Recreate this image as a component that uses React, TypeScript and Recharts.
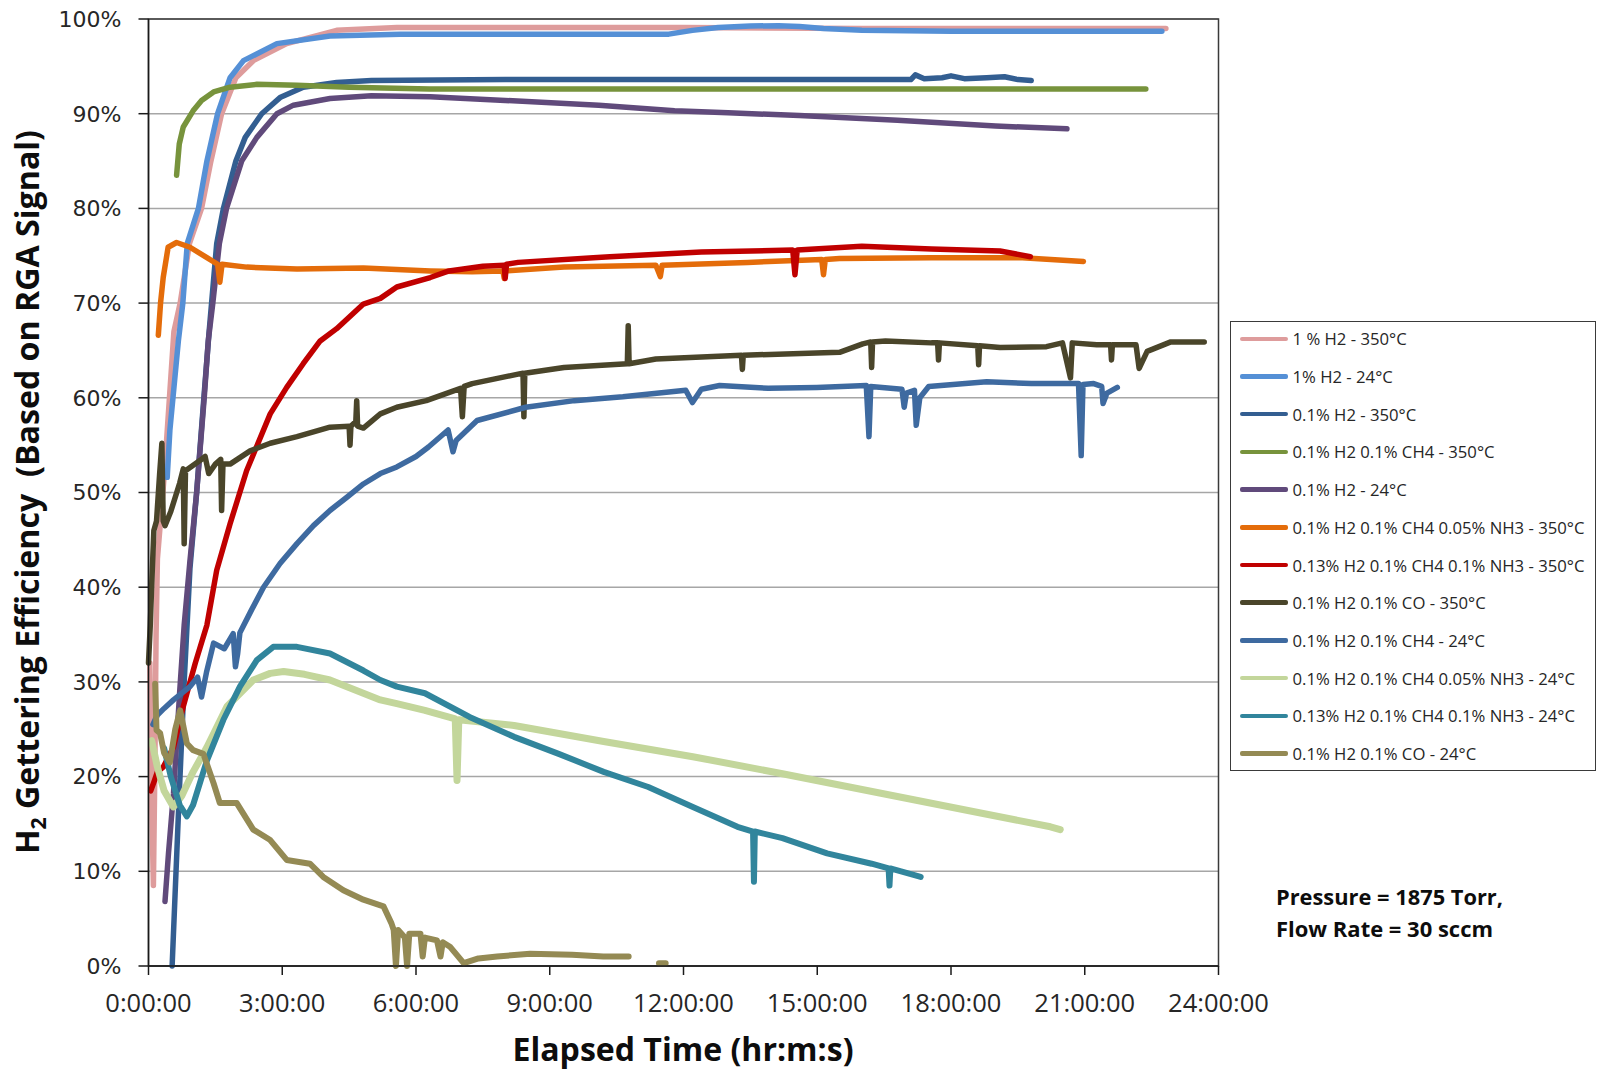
import { CartesianGrid, Legend, Line, LineChart, ReferenceArea, XAxis, YAxis } from 'recharts';

type Pt = [number, number | null];

// [elapsed hours, H2 gettering efficiency %]
const h2_1pct_350C: Pt[] = [
  [0.03, 32], [0.06, 20], [0.11, 8.5], [0.14, 20], [0.17, 35], [0.2, 43], [0.35, 51.6], [0.57, 67],
  [0.71, 70], [0.92, 76.3], [1.19, 80], [1.4, 85], [1.64, 90], [1.96, 93.8], [2.35, 95.6], [3.1, 97.4],
  [4.22, 98.8], [5.57, 99.1], [8, 99.1], [12, 99.1], [16, 99.0], [20, 99.0], [22.82, 99.0],
];
const h2_1pct_24C: Pt[] = [
  [0.42, 51.6], [0.48, 56.6], [0.67, 66], [0.77, 70], [0.87, 76.3], [1.12, 80], [1.31, 85], [1.55, 90],
  [1.83, 93.8], [2.13, 95.6], [2.88, 97.4], [4.07, 98.2], [5.65, 98.4], [8, 98.4], [11.67, 98.4],
  [12.2, 98.8], [12.78, 99.1], [13.5, 99.25], [14.13, 99.3], [14.6, 99.2], [15.14, 99.0], [16.0, 98.8],
  [18, 98.7], [20, 98.7], [22.73, 98.7],
];
const h2_01_350C: Pt[] = [
  [0.53, 0], [0.6, 8], [0.69, 18.2], [0.8, 30], [0.93, 42], [1.08, 50], [1.25, 60.5], [1.36, 67],
  [1.53, 76.3], [1.68, 80], [1.96, 85], [2.17, 87.5], [2.54, 90], [2.95, 91.7], [3.47, 92.8], [4.22, 93.3],
  [5, 93.5], [8, 93.6], [12, 93.6], [17.1, 93.6], [17.2, 94.1], [17.4, 93.7], [17.8, 93.8], [18.0, 94.0],
  [18.3, 93.7], [18.8, 93.8], [19.2, 93.9], [19.5, 93.6], [19.8, 93.5],
];
const h2ch4_350C: Pt[] = [
  [0.63, 83.5], [0.69, 86.8], [0.78, 88.6], [1.0, 90.3], [1.19, 91.4], [1.46, 92.3], [1.83, 92.8],
  [2.43, 93.1], [3.33, 93.0], [4.5, 92.8], [6.3, 92.6], [10, 92.6], [15, 92.6], [20, 92.6], [22.37, 92.6],
];
const h2_01_24C: Pt[] = [
  [0.37, 6.8], [0.45, 12], [0.56, 18.2], [0.7, 29], [0.8, 36], [0.93, 42.8], [1.08, 50], [1.25, 60],
  [1.34, 66], [1.44, 69.9], [1.59, 76.3], [1.75, 80], [2.09, 85], [2.43, 87.5], [2.88, 90], [3.25, 90.9],
  [4.07, 91.6], [5, 91.9], [6.32, 91.8], [8, 91.4], [10.1, 90.9], [11.8, 90.3], [13, 90.1], [14.6, 89.8],
  [16.8, 89.3], [19, 88.7], [20.6, 88.4],
];
const h2ch4nh3_350C: Pt[] = [
  [0.22, 66.6], [0.27, 70], [0.33, 72.7], [0.44, 75.9], [0.63, 76.4], [0.93, 75.9], [1.31, 74.8],
  [1.55, 74.1], [1.6, 72.2], [1.65, 74.1], [2.2, 73.8], [3.33, 73.6], [4.82, 73.7], [6.32, 73.4],
  [7.26, 73.3], [7.95, 73.4], [7.98, 72.6], [8.01, 73.4], [9.32, 73.8], [11.38, 74.0], [11.48, 72.8],
  [11.52, 74.0], [13.44, 74.3], [15.1, 74.6], [15.14, 73.0], [15.18, 74.6], [15.5, 74.7], [17.56, 74.8],
  [19.6, 74.8], [20.97, 74.4],
];
const h2013ch4nh3_350C: Pt[] = [
  [0.05, 18.5], [0.12, 19.4], [0.2, 20.5], [0.33, 21], [0.56, 23.1], [0.78, 27.4], [1.05, 32], [1.31, 36],
  [1.53, 41.8], [1.83, 46.7], [2.2, 52.3], [2.73, 58.3], [3.1, 61.1], [3.47, 63.6], [3.85, 66],
  [4.22, 67.3], [4.82, 69.9], [5.2, 70.5], [5.57, 71.7], [6.32, 72.7], [6.74, 73.4], [7.5, 73.9],
  [7.98, 74.0], [8.0, 72.6], [8.03, 74.1], [8.29, 74.3], [10.35, 74.9], [12.4, 75.4], [14.45, 75.6],
  [14.5, 73.0], [14.55, 75.6], [16.0, 76.0], [17.56, 75.7], [19.1, 75.5], [19.78, 74.9],
];
const h2co_350C: Pt[] = [
  [0.0, 32], [0.04, 36], [0.07, 40], [0.12, 46], [0.18, 47], [0.25, 52], [0.3, 55.2], [0.33, 47],
  [0.37, 46.5], [0.5, 48], [0.7, 51], [0.78, 52.5], [0.8, 44.6], [0.83, 52.3], [1.16, 53.4], [1.27, 53.8],
  [1.35, 52], [1.5, 53], [1.62, 53.5], [1.64, 48.1], [1.67, 53], [1.83, 53.0], [2.28, 54.4], [2.73, 55.2],
  [3.33, 55.9], [4.07, 56.9], [4.5, 57], [4.52, 55], [4.54, 57], [4.65, 57.5], [4.67, 59.7], [4.69, 57],
  [4.82, 56.8], [5.2, 58.3], [5.57, 59.0], [6.23, 59.7], [7.0, 61], [7.04, 58], [7.08, 61.2], [7.26, 61.5],
  [8.29, 62.5], [8.4, 62.6], [8.42, 58], [8.44, 62.6], [9.32, 63.2], [10.74, 63.6], [10.76, 67.6],
  [10.78, 63.6], [11.38, 64.1], [13.3, 64.5], [13.32, 63.0], [13.34, 64.5], [15.5, 64.8], [16.02, 65.7],
  [16.2, 65.9], [16.22, 63.2], [16.24, 65.9], [16.53, 66.0], [17.56, 65.8], [17.7, 65.8], [17.72, 64],
  [17.74, 65.8], [18.6, 65.5], [18.62, 63.5], [18.64, 65.5], [19.1, 65.3], [20.14, 65.4], [20.5, 65.8],
  [20.68, 62.1], [20.72, 65.8], [21.27, 65.6], [21.58, 65.6], [21.6, 64.0], [21.62, 65.6], [22.15, 65.6],
  [22.22, 63.1], [22.4, 64.9], [22.93, 65.9], [23.68, 65.9],
];
const h2ch4_24C: Pt[] = [
  [0.1, 25.5], [0.2, 26.5], [0.35, 27.2], [0.56, 28.1], [0.93, 29.5], [1.1, 30.5], [1.19, 28.4], [1.3, 31],
  [1.46, 34.1], [1.7, 33.5], [1.9, 35.1], [1.95, 31.6], [2.0, 33], [2.05, 35.2], [2.3, 37.5], [2.58, 40],
  [2.95, 42.5], [3.33, 44.6], [3.7, 46.5], [4.07, 48.1], [4.45, 49.5], [4.82, 50.9], [5.2, 52], [5.57, 52.7],
  [6.0, 53.8], [6.28, 54.8], [6.72, 56.6], [6.83, 54.3], [6.9, 55.5], [7.37, 57.6], [8.46, 59.0],
  [9.55, 59.7], [10.64, 60.1], [12.05, 60.8], [12.2, 59.5], [12.4, 60.9], [12.81, 61.3], [13.9, 61.0],
  [14.99, 61.1], [16.1, 61.3], [16.16, 55.9], [16.2, 61.2], [16.9, 60.9], [16.95, 59.0], [17.0, 60.5],
  [17.18, 60.8], [17.22, 57.1], [17.3, 60], [17.5, 61.2], [18.8, 61.7], [19.8, 61.5], [20.86, 61.5],
  [20.92, 53.9], [20.96, 61.4], [21.2, 61.5], [21.38, 61.2], [21.41, 59.4], [21.5, 60.5], [21.73, 61.1],
];
const h2ch4nh3_24C: Pt[] = [
  [0.07, 23.8], [0.2, 21], [0.35, 18.5], [0.56, 16.8], [0.75, 18], [1.0, 20.5], [1.31, 23.1], [1.76, 27.4],
  [2.35, 30.2], [2.73, 30.9], [3.03, 31.1], [3.5, 30.8], [4.07, 30.2], [5.2, 28.1], [5.57, 27.7],
  [6.2, 27.0], [6.88, 26.1], [6.92, 19.6], [6.96, 26.0], [8.2, 25.4], [10.21, 23.7], [12.21, 22.1],
  [14.22, 20.3], [15.72, 18.9], [17.22, 17.5], [18.72, 16.1], [20.23, 14.7], [20.45, 14.4],
];
const h2013ch4nh3_24C: Pt[] = [
  [0.35, 23], [0.5, 20], [0.7, 17], [0.86, 15.8], [1.0, 17], [1.31, 21.7], [1.68, 26], [2.05, 29.5],
  [2.43, 32.3], [2.8, 33.7], [3.33, 33.7], [4.07, 33.0], [4.82, 31.2], [5.2, 30.2], [5.57, 29.5],
  [6.2, 28.8], [7.2, 26.3], [8.2, 24.2], [9.2, 22.4], [10.21, 20.5], [11.21, 18.9], [12.21, 16.8],
  [13.21, 14.7], [13.56, 14.2], [13.58, 8.9], [13.6, 14.2], [14.22, 13.5], [15.22, 11.9], [16.22, 10.8],
  [16.6, 10.3], [16.62, 8.5], [16.64, 10.3], [17.32, 9.4],
];
const h2co_24C: Pt[] = [
  [0.15, 29.8], [0.18, 24.9], [0.26, 24.6], [0.35, 22.5], [0.48, 21.5], [0.6, 25], [0.71, 27.0],
  [0.86, 23.5], [1.0, 22.8], [1.23, 22.4], [1.46, 19.3], [1.6, 17.2], [1.98, 17.2], [2.35, 14.4],
  [2.73, 13.3], [3.1, 11.2], [3.62, 10.8], [3.92, 9.4], [4.37, 8.0], [4.82, 7.0], [5.27, 6.3], [5.45, 4.5],
  [5.5, 3.8], [5.55, 0], [5.6, 3.8], [5.75, 3.0], [5.8, 0], [5.85, 3.4], [6.1, 3.4], [6.15, 1], [6.2, 3.0],
  [6.47, 2.7], [6.55, 1], [6.6, 2.5], [6.77, 2.0], [7.07, 0.3], [7.4, 0.8], [7.82, 1.0], [8.56, 1.3],
  [9.5, 1.2], [10.2, 1.0], [10.77, 1.0], [10.9, null], [11.45, 0.3], [11.6, 0.3],
];

const seriesNames = [
  '1 % H2 - 350°C',
  '1% H2 - 24°C',
  '0.1% H2 - 350°C',
  '0.1% H2 0.1% CH4 - 350°C',
  '0.1% H2 - 24°C',
  '0.1% H2 0.1% CH4 0.05% NH3 - 350°C',
  '0.13% H2 0.1% CH4 0.1% NH3 - 350°C',
  '0.1% H2 0.1% CO - 350°C',
  '0.1% H2 0.1% CH4 - 24°C',
  '0.1% H2 0.1% CH4 0.05% NH3 - 24°C',
  '0.13% H2 0.1% CH4 0.1% NH3 - 24°C',
  '0.1% H2 0.1% CO - 24°C',
];
const seriesData = [
  h2_1pct_350C, h2_1pct_24C, h2_01_350C, h2ch4_350C, h2_01_24C, h2ch4nh3_350C,
  h2013ch4nh3_350C, h2co_350C, h2ch4_24C, h2ch4nh3_24C, h2013ch4nh3_24C, h2co_24C,
];
const seriesColors = [
  '#DE9C9C', '#5590D6', '#335E91', '#77933C', '#604A7B', '#E46C0A',
  '#C00000', '#4A452A', '#3E6AA0', '#C3D69B', '#31859C', '#948A54',
];
// the noisier traces read thicker in the original
const seriesWidths = [5.5, 5.5, 5.5, 5.5, 5.5, 5.5, 5.5, 5.5, 5.5, 7, 6, 6];

const xTicks = [0, 3, 6, 9, 12, 15, 18, 21, 24];
const xMinorTicks = [0, 1, 2, 3, 4, 5, 6, 7, 8, 9, 10, 11, 12, 13, 14, 15, 16, 17, 18, 19, 20, 21, 22, 23, 24];
const yTicks = [0, 10, 20, 30, 40, 50, 60, 70, 80, 90, 100];
const yMinorTicks = [
  2, 4, 6, 8, 12, 14, 16, 18, 22, 24, 26, 28, 32, 34, 36, 38, 42, 44, 46, 48,
  52, 54, 56, 58, 62, 64, 66, 68, 72, 74, 76, 78, 82, 84, 86, 88, 92, 94, 96, 98,
];

const series = seriesNames.map((name, i) => ({
  name,
  color: seriesColors[i],
  width: seriesWidths[i],
  rows: seriesData[i].map(([t, v]) => ({ t, v })),
}));

const axisColor = '#1a1a1a';
const textColor = '#262626';

function LegendBox() {
  return (
    <div
      style={{
        position: 'absolute',
        left: 0,
        top: 0,
        width: 366,
        height: 450,
        boxSizing: 'border-box',
        border: '1.5px solid #3a3a3a',
        background: '#fff',
        fontFamily: '"Open Sans", sans-serif',
        fontSize: 16.7,
        color: textColor,
      }}
    >
      {series.map((s, i) => (
        <div
          key={s.name}
          style={{
            position: 'absolute',
            left: 8.5,
            top: 16.8 + 37.7 * i - 11,
            height: 22,
            display: 'flex',
            alignItems: 'center',
            whiteSpace: 'nowrap',
          }}
        >
          <span style={{ width: 48, height: 4.5, background: s.color, borderRadius: 2, marginRight: 5 }} />
          <span>{s.name}</span>
        </div>
      ))}
    </div>
  );
}

export default function App() {
  return (
    <div style={{ position: 'absolute', left: 0, top: 0, width: 1598, height: 1073, background: '#fff' }}>
      <LineChart width={1598} height={1073} margin={{ top: 19, right: 379.5, bottom: 0, left: 0 }}>
        <CartesianGrid horizontal vertical={false} stroke="#A6A6A6" strokeWidth={1.5} />
        <XAxis
          dataKey="t"
          type="number"
          domain={[0, 24]}
          ticks={xTicks}
          height={107}
          tickSize={9}
          tickMargin={19}
          interval={0}
          stroke={axisColor}
          strokeWidth={1.5}
          tickFormatter={(v: number) => `${v}:00:00`}
          tick={{ fill: textColor, fontSize: 25.5, fontFamily: '"Open Sans", sans-serif' }}
        />
        <XAxis
          xAxisId="minor"
          type="number"
          domain={[0, 24]}
          ticks={xMinorTicks}
          height={10}
          mirror
          tickSize={6}
          tick={false}
          axisLine={false}
          interval={0}
          stroke={axisColor}
          strokeWidth={1.5}
        />
        <YAxis
          type="number"
          domain={[0, 100]}
          ticks={yTicks}
          width={148.5}
          tickSize={10}
          tickMargin={17}
          interval={0}
          stroke={axisColor}
          strokeWidth={1.5}
          tickFormatter={(v: number) => `${v}%`}
          tick={{ fill: textColor, fontSize: 22, fontFamily: '"DejaVu Sans", sans-serif' }}
        />
        <YAxis
          yAxisId="minor"
          type="number"
          domain={[0, 100]}
          ticks={yMinorTicks}
          width={10}
          mirror
          tickSize={7}
          tick={false}
          axisLine={false}
          interval={0}
          stroke={axisColor}
          strokeWidth={1.5}
        />
        <ReferenceArea x1={0} x2={24} y1={0} y2={100} fill="none" stroke="#3a3a3a" strokeWidth={1.5} />
        {series.map((s) => (
          <Line
            key={s.name}
            name={s.name}
            data={s.rows}
            dataKey="v"
            type="linear"
            stroke={s.color}
            strokeWidth={s.width}
            strokeLinejoin="round"
            strokeLinecap="round"
            dot={false}
            activeDot={false}
            isAnimationActive={false}
          />
        ))}
        <Legend
          layout="vertical"
          align="center"
          verticalAlign="middle"
          wrapperStyle={{ left: 1230, top: 321, width: 366, height: 450 }}
          content={() => <LegendBox />}
        />
        <text
          x={683}
          y={1061}
          textAnchor="middle"
          textLength={341}
          lengthAdjust="spacingAndGlyphs"
          fontFamily='"Open Sans", sans-serif'
          fontWeight={700}
          fontSize={32}
          fill="#0d0d0d"
        >
          Elapsed Time (hr:m:s)
        </text>
        <text
          transform="rotate(-90)"
          x={-492}
          y={39}
          textAnchor="middle"
          textLength={724}
          lengthAdjust="spacingAndGlyphs"
          fontFamily='"Open Sans", sans-serif'
          fontWeight={700}
          fontSize={32}
          fill="#0d0d0d"
          style={{ whiteSpace: 'pre' }}
        >
          H<tspan dy={7} fontSize={21}>2</tspan>
          <tspan dy={-7}> Gettering Efficiency  (Based on RGA Signal)</tspan>
        </text>
        <text
          x={1276}
          y={905}
          textLength={227}
          lengthAdjust="spacingAndGlyphs"
          fontFamily='"Open Sans", sans-serif'
          fontWeight={700}
          fontSize={22}
          fill="#0d0d0d"
        >
          Pressure = 1875 Torr,
        </text>
        <text
          x={1276}
          y={936.5}
          textLength={217}
          lengthAdjust="spacingAndGlyphs"
          fontFamily='"Open Sans", sans-serif'
          fontWeight={700}
          fontSize={22}
          fill="#0d0d0d"
        >
          Flow Rate = 30 sccm
        </text>
      </LineChart>
    </div>
  );
}
